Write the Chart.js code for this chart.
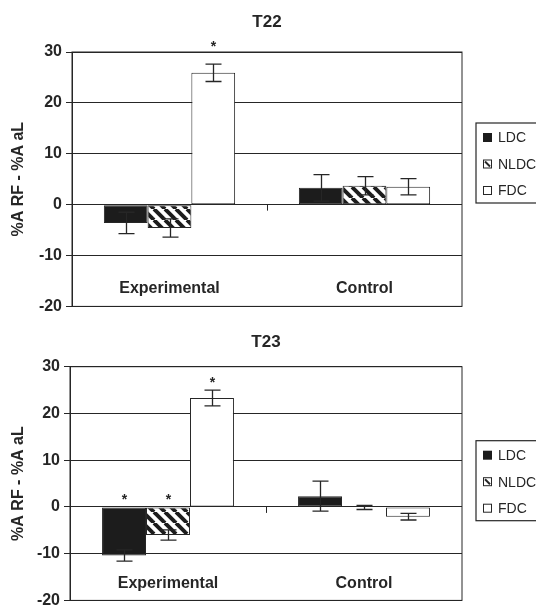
<!DOCTYPE html>
<html>
<head>
<meta charset="utf-8">
<script src="https://cdn.jsdelivr.net/npm/chart.js@4.4.1/dist/chart.umd.min.js"></script>
<style>
  html, body { margin: 0; padding: 0; background: #fff; overflow: hidden; }
  #wrap { position: relative; width: 536px; height: 608px; overflow: hidden; }
  canvas { position: absolute; left: 0; }
  #c22 { top: 0; }
  #c23 { top: 314px; }
</style>
</head>
<body>
<div id="wrap">
  <canvas id="c22" width="536" height="320"></canvas>
  <canvas id="c23" width="536" height="300"></canvas>
</div>
<script>
const categories = ["Experimental", "Control"];
const seriesNames = ["LDC", "NLDC", "FDC"];
const yTicks = [-20, -10, 0, 10, 20, 30];

// T22 means and error bars (Experimental, Control)
const t22LDC = [-3.6, 3.3];
const t22NLDC = [-4.6, 3.7];
const t22FDC = [25.9, 3.5];
const t22LDCErr = [2.1, 2.6];
const t22NLDCErr = [1.8, 1.8];
const t22FDCErr = [1.7, 1.6];
const t22LDCSig = [false, false];
const t22NLDCSig = [false, false];
const t22FDCSig = [true, false];

// T23
const t23LDC = [-10.4, 2.3];
const t23NLDC = [-6.0, -0.1];
const t23FDC = [23.3, -2.1];
const t23LDCErr = [1.2, 3.2];
const t23NLDCErr = [1.1, 0.45];
const t23FDCErr = [1.7, 0.7];
const t23LDCSig = [true, false];
const t23NLDCSig = [true, false];
const t23FDCSig = [true, false];

const ink = "#262626";
const family = "'Liberation Sans', Arial, sans-serif";
Chart.defaults.font.family = family;
Chart.defaults.color = ink;

function hatch(ctx) {
  const s = 11;
  const c = document.createElement("canvas");
  c.width = s; c.height = s;
  const g = c.getContext("2d");
  g.fillStyle = "#fff";
  g.fillRect(0, 0, s, s);
  g.strokeStyle = "#1c1c1c";
  g.lineWidth = 3.9;
  for (const k of [-1, 0, 1]) {
    g.beginPath();
    g.moveTo(k * s, 0);
    g.lineTo(k * s + s, s);
    g.stroke();
  }
  return ctx.createPattern(c, "repeat");
}

const overlay = {
  id: "overlay",
  afterDatasetsDraw(chart, args, opts) {
    const { ctx, chartArea: a, scales: { x, y } } = chart;
    ctx.save();
    ctx.strokeStyle = ink;
    ctx.lineWidth = 1;
    ctx.strokeRect(a.left, a.top, a.right - a.left, a.bottom - a.top);

    // small tick between the two groups on the zero line
    const y0 = y.getPixelForValue(0);
    const xm = Math.round((x.getPixelForValue(0) + x.getPixelForValue(1)) / 2) + 0.5;
    ctx.beginPath();
    ctx.moveTo(xm, y0);
    ctx.lineTo(xm, y0 + 6);
    ctx.stroke();

    // error bars and asterisks
    chart.data.datasets.forEach((ds, i) => {
      const meta = chart.getDatasetMeta(i);
      meta.data.forEach((bar, j) => {
        const v = ds.data[j], e = ds.errors[j];
        const top = y.getPixelForValue(v + e);
        const bot = y.getPixelForValue(v - e);
        const bx = Math.round(bar.x) + 0.5;
        ctx.strokeStyle = ink;
        ctx.lineWidth = 1.3;
        ctx.beginPath();
        ctx.moveTo(bx, top); ctx.lineTo(bx, bot);
        ctx.moveTo(bx - 8, top); ctx.lineTo(bx + 8, top);
        ctx.moveTo(bx - 8, bot); ctx.lineTo(bx + 8, bot);
        ctx.stroke();
        if (ds.sig[j]) {
          const sy = y.getPixelForValue(Math.max(0, v + e)) - opts.starGap;
          ctx.fillStyle = ink;
          ctx.font = "bold 14px " + family;
          ctx.textAlign = "center";
          ctx.textBaseline = "alphabetic";
          ctx.fillText("*", bx, sy + 8);
        }
      });
    });

    // group names inside the plot
    ctx.fillStyle = ink;
    ctx.font = "bold 16px " + family;
    ctx.textAlign = "center";
    ctx.textBaseline = "middle";
    chart.data.labels.forEach((lab, i) => {
      ctx.fillText(lab, x.getPixelForValue(i), y.getPixelForValue(-16.5));
    });

    // legend box on the right
    const lx = a.right + 14, ly = a.top + opts.legendTop;
    ctx.lineWidth = 1.2;
    ctx.strokeStyle = ink;
    ctx.strokeRect(lx, ly, 90, 80);
    ctx.font = "14px " + family;
    ctx.textAlign = "left";
    chart.data.datasets.forEach((ds, i) => {
      const cy = ly + 14.5 + i * 26.5;
      const sx = lx + 7, sy = cy - 4.5;
      if (i === 0) {
        ctx.fillStyle = "#1c1c1c";
        ctx.fillRect(sx, sy, 9, 9);
      } else {
        ctx.fillStyle = "#fff";
        ctx.fillRect(sx, sy, 9, 9);
        ctx.lineWidth = 1;
        ctx.strokeRect(sx + 0.5, sy + 0.5, 8, 8);
        if (i === 1) {
          ctx.lineWidth = 2;
          ctx.beginPath();
          ctx.moveTo(sx + 2, sy + 2);
          ctx.lineTo(sx + 7, sy + 7);
          ctx.stroke();
        }
      }
      ctx.fillStyle = ink;
      ctx.fillText(ds.label, lx + 22, cy + 1);
    });
    ctx.restore();
  }
};

function build(id, title, vals, errs, sigs, geo) {
  const ctx = document.getElementById(id).getContext("2d");
  const fills = ["#1c1c1c", hatch(ctx), "#ffffff"];
  return new Chart(ctx, {
    type: "bar",
    data: {
      labels: categories,
      datasets: seriesNames.map((name, i) => ({
        label: name,
        data: vals[i],
        errors: errs[i],
        sig: sigs[i],
        backgroundColor: fills[i],
        borderColor: ink,
        borderWidth: 1,
        borderSkipped: false,
        categoryPercentage: 0.673,
        barPercentage: 1
      }))
    },
    options: {
      responsive: false,
      animation: false,
      layout: { padding: { left: 0, right: 74, top: 0, bottom: geo.bottom } },
      plugins: {
        legend: { display: false },
        tooltip: { enabled: false },
        title: {
          display: true,
          text: title,
          fullSize: false,
          color: ink,
          font: { size: 17, weight: "bold" },
          padding: { top: geo.titleTop, bottom: geo.titleBottom }
        },
        overlay: { starGap: geo.starGap, legendTop: geo.legendTop }
      },
      scales: {
        x: { display: false },
        y: {
          min: yTicks[0],
          max: yTicks[yTicks.length - 1],
          afterBuildTicks(scale) {
            scale.ticks = yTicks.map(v => ({ value: v }));
          },
          afterFit(scale) { scale.width = geo.left; },
          grid: { color: ink, lineWidth: 1, tickLength: 6 },
          border: { color: ink, width: 1 },
          ticks: { color: ink, padding: 4, font: { size: 16, weight: "bold" } },
          title: {
            display: true,
            text: "%A RF - %A aL",
            color: ink,
            font: { size: 16, weight: "bold" },
            padding: { top: 9, bottom: 0 }
          }
        }
      }
    },
    plugins: [overlay]
  });
}

build("c22", "T22",
  [t22LDC, t22NLDC, t22FDC],
  [t22LDCErr, t22NLDCErr, t22FDCErr],
  [t22LDCSig, t22NLDCSig, t22FDCSig],
  { left: 72, bottom: 11, titleTop: 12, titleBottom: 19.6, starGap: 21, legendTop: 71 });

build("c23", "T23",
  [t23LDC, t23NLDC, t23FDC],
  [t23LDCErr, t23NLDCErr, t23FDCErr],
  [t23LDCSig, t23NLDCSig, t23FDCSig],
  { left: 70, bottom: 11.3, titleTop: 18.5, titleBottom: 13.8, starGap: 11, legendTop: 74 });
</script>
</body>
</html>
